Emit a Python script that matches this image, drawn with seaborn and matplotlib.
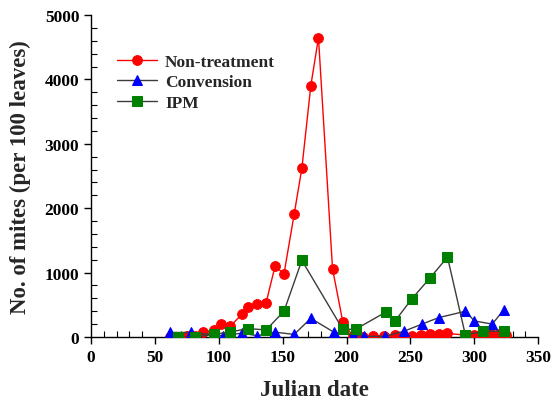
import matplotlib
matplotlib.use("Agg")
import matplotlib.pyplot as plt
from matplotlib.ticker import MultipleLocator
import seaborn as sns
import pandas as pd

# Data
nt_x = [62, 75, 81, 88, 96, 102, 109, 118, 123, 130, 137, 144, 151, 159, 165, 172, 178,
        189, 197, 205, 213, 221, 229, 238, 245, 251, 258, 265, 272, 279, 293, 300, 307,
        313, 319, 325]
nt_y = [0, 10, 20, 70, 110, 200, 170, 350, 470, 510, 530, 1100, 980, 1910, 2620, 3900, 4650,
        1060, 240, 10, 5, 15, 20, 30, 15, 20, 25, 40, 45, 55, 30, 30, 40,
        50, 45, 35]

cv_x = [62, 78, 103, 118, 130, 144, 159, 172, 190, 205, 214, 230, 245, 259, 272, 293, 300, 314, 323]
cv_y = [70, 70, 20, 60, 20, 75, 40, 290, 75, 30, 10, 10, 90, 200, 300, 400, 250, 200, 420]

ipm_x = [68, 81, 96, 109, 123, 137, 151, 165, 197, 207, 231, 238, 251, 265, 279, 293, 307, 323]
ipm_y = [0, 0, 40, 80, 130, 110, 400, 1190, 120, 120, 390, 250, 590, 910, 1240, 30, 90, 90]

labels = ["Non-treatment", "Convension", "IPM"]
x_ticks = [0, 50, 100, 150, 200, 250, 300, 350]
y_ticks = [0, 1000, 2000, 3000, 4000, 5000]

sns.set_style("ticks")
plt.rcParams["font.family"] = ["Liberation Serif", "DejaVu Serif"]
plt.rcParams["font.weight"] = "bold"

fig = plt.figure(figsize=(5.52, 4.06), dpi=100)
ax = fig.add_axes([0.165, 0.1675, 0.81, 0.793])

df_nt = pd.DataFrame({"x": nt_x, "y": nt_y})
df_cv = pd.DataFrame({"x": cv_x, "y": cv_y})
df_ipm = pd.DataFrame({"x": ipm_x, "y": ipm_y})

line_gray = "#3c3c3c"
sns.lineplot(data=df_nt, x="x", y="y", ax=ax, color="red", lw=1.0, marker="o",
             markersize=7, markerfacecolor="red", markeredgecolor="red",
             label=labels[0], zorder=3)
sns.lineplot(data=df_cv, x="x", y="y", ax=ax, color=line_gray, lw=1.0, marker="^",
             markersize=7.5, markerfacecolor="blue", markeredgecolor="blue",
             label=labels[1], zorder=4)
sns.lineplot(data=df_ipm, x="x", y="y", ax=ax, color=line_gray, lw=1.0, marker="s",
             markersize=6.5, markerfacecolor="green", markeredgecolor="green",
             label=labels[2], zorder=5)

ax.set_xlim(0, 350)
ax.set_ylim(0, 5000)
ax.set_xticks(x_ticks)
ax.set_yticks(y_ticks)
ax.xaxis.set_minor_locator(MultipleLocator(10))
ax.yaxis.set_minor_locator(MultipleLocator(200))
ax.tick_params(which="major", direction="out", length=5, width=1, labelsize=12.5,
               colors="black")
ax.tick_params(which="minor", direction="in", length=4, width=0.8, colors="black")
for lab in ax.get_xticklabels() + ax.get_yticklabels():
    lab.set_fontweight("bold")

for s in ["top", "right"]:
    ax.spines[s].set_visible(False)
for s in ["left", "bottom"]:
    ax.spines[s].set_linewidth(1.0)
    ax.spines[s].set_color("black")

ax.set_xlabel("Julian date", fontsize=16.5, fontweight="bold", labelpad=10)
ax.set_ylabel("No. of mites (per 100 leaves)", fontsize=16.5, fontweight="bold", labelpad=10)

leg = ax.legend(loc="upper left", bbox_to_anchor=(0.043, 0.902), frameon=False,
                prop={"size": 12.5, "weight": "bold"}, handlelength=2.3,
                handletextpad=0.45, labelspacing=0.25, borderaxespad=0)

fig.savefig("out.png", dpi=100)
